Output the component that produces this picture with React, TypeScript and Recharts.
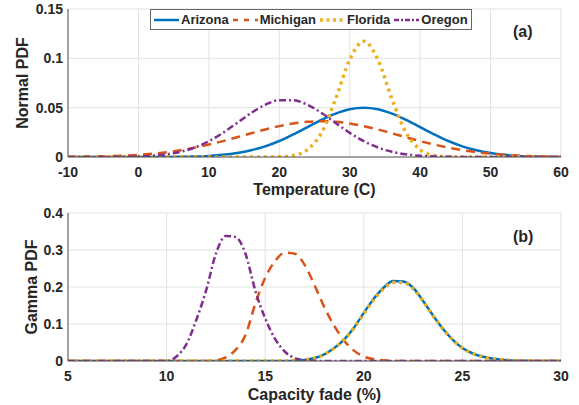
import React from "react";
import { LineChart, Line, XAxis, YAxis, CartesianGrid, Legend, Label } from "recharts";

// panel (a): normal PDFs over temperature
const tempX = [-10, -8, -6, -4, -2, 0, 2, 4, 6, 8, 10, 12, 14, 16, 18, 20, 22, 24, 26, 28, 30, 32, 34, 36, 38, 40, 42, 44, 46, 48, 50, 52, 54, 56, 58, 60];
const arizonaTemp = [0, 0, 0, 0, 0.00001, 0.00002, 0.00004, 0.0001, 0.00025, 0.00055, 0.0011, 0.0022, 0.004, 0.0068, 0.0108, 0.0162, 0.0229, 0.0303, 0.0377, 0.044, 0.0484, 0.0499, 0.0484, 0.044, 0.0377, 0.0303, 0.0229, 0.0162, 0.0108, 0.0068, 0.004, 0.0022, 0.0011, 0.00055, 0.00025, 0.0001];
const michiganTemp = [0.00017, 0.0003, 0.00053, 0.00088, 0.0014, 0.0022, 0.0034, 0.0049, 0.0069, 0.0095, 0.0126, 0.0161, 0.02, 0.024, 0.0279, 0.0313, 0.034, 0.0357, 0.0363, 0.0357, 0.034, 0.0313, 0.0279, 0.024, 0.02, 0.0161, 0.0126, 0.0095, 0.0069, 0.0049, 0.0034, 0.0022, 0.0014, 0.00088, 0.00053, 0.0003];
const floridaTemp = [0, 0, 0, 0, 0, 0, 0, 0, 0, 0, 0, 0, 0, 0, 0.00002, 0.00023, 0.0016, 0.0074, 0.0247, 0.0587, 0.0987, 0.1173, 0.0987, 0.0587, 0.0247, 0.0074, 0.0016, 0.00023, 0.00002, 0, 0, 0, 0, 0, 0, 0];
const oregonTemp = [0, 0, 0.00002, 0.00007, 0.00021, 0.00053, 0.0012, 0.0027, 0.0053, 0.0096, 0.016, 0.0245, 0.0345, 0.0446, 0.0529, 0.0576, 0.0576, 0.0529, 0.0446, 0.0345, 0.0245, 0.016, 0.0096, 0.0053, 0.0027, 0.0012, 0.00053, 0.00021, 0.00007, 0.00002, 0, 0, 0, 0, 0, 0];
const tempTicks = [-10, 0, 10, 20, 30, 40, 50, 60];
const normalTicks = [0, 0.05, 0.1, 0.15];

// panel (b): gamma PDFs over capacity fade
const fadeX = [5, 5.5, 6, 6.5, 7, 7.5, 8, 8.5, 9, 9.5, 10, 10.5, 11, 11.5, 12, 12.5, 13, 13.5, 14, 14.5, 15, 15.5, 16, 16.5, 17, 17.5, 18, 18.5, 19, 19.5, 20, 20.5, 21, 21.5, 22, 22.5, 23, 23.5, 24, 24.5, 25, 25.5, 26, 26.5, 27, 27.5, 28, 28.5, 29, 29.5, 30];
const arizonaFade = [0, 0, 0, 0, 0, 0, 0, 0, 0, 0, 0, 0, 0, 0, 0, 0, 0, 0, 0, 0, 0, 0, 0, 0.001, 0.003, 0.008, 0.018, 0.035, 0.058, 0.09, 0.13, 0.168, 0.198, 0.216, 0.215, 0.198, 0.163, 0.124, 0.088, 0.058, 0.035, 0.021, 0.012, 0.0065, 0.0033, 0.0016, 0.0007, 0.0003, 0.0001, 0, 0];
const michiganFade = [0, 0, 0, 0, 0, 0, 0, 0, 0, 0, 0, 0, 0, 0, 0, 0.002, 0.01, 0.03, 0.07, 0.155, 0.225, 0.27, 0.293, 0.29, 0.26, 0.205, 0.145, 0.095, 0.055, 0.028, 0.012, 0.005, 0.002, 0.0005, 0, 0, 0, 0, 0, 0, 0, 0, 0, 0, 0, 0, 0, 0, 0, 0, 0];
const floridaFade = [0, 0, 0, 0, 0, 0, 0, 0, 0, 0, 0, 0, 0, 0, 0, 0, 0, 0, 0, 0, 0, 0, 0, 0.001, 0.003, 0.008, 0.018, 0.035, 0.058, 0.089, 0.128, 0.165, 0.195, 0.212, 0.212, 0.196, 0.162, 0.123, 0.088, 0.058, 0.035, 0.021, 0.012, 0.0065, 0.0033, 0.0016, 0.0007, 0.0003, 0.0001, 0, 0];
const oregonFade = [0, 0, 0, 0, 0, 0, 0, 0, 0, 0, 0, 0.012, 0.045, 0.11, 0.19, 0.29, 0.338, 0.335, 0.29, 0.19, 0.115, 0.06, 0.025, 0.008, 0.002, 0.0005, 0, 0, 0, 0, 0, 0, 0, 0, 0, 0, 0, 0, 0, 0, 0, 0, 0, 0, 0, 0, 0, 0, 0, 0, 0];
const fadeTicks = [5, 10, 15, 20, 25, 30];
const gammaTicks = [0, 0.1, 0.2, 0.3, 0.4];

const tempRows = tempX.map((x, i) => ({
  x,
  Arizona: arizonaTemp[i],
  Michigan: michiganTemp[i],
  Florida: floridaTemp[i],
  Oregon: oregonTemp[i],
}));
const fadeRows = fadeX.map((x, i) => ({
  x,
  Arizona: arizonaFade[i],
  Michigan: michiganFade[i],
  Florida: floridaFade[i],
  Oregon: oregonFade[i],
}));

const FONT = '"Liberation Sans", Arial, sans-serif';
const INK = "#262626";
const BOX = "#555";
const GRID = "#e2e2e2";

const series = [
  { key: "Arizona", color: "#0072BD", dash: undefined, width: 2.5, legendDash: undefined },
  { key: "Michigan", color: "#D95319", dash: "9 6", width: 2.5, legendDash: "5 6" },
  { key: "Florida", color: "#EDB120", dash: "3 4", width: 3.5, legendDash: "3 3.5" },
  { key: "Oregon", color: "#7E2F8E", dash: "7 3 2 3", width: 2.5, legendDash: "5 2 2 2" },
];

const tickStyle = { fill: INK, fontSize: 14, fontWeight: 700, fontFamily: FONT };

function yTitle(value: string, tx: number) {
  return (props: any) => {
    const vb = props.viewBox;
    const cy = vb.y + vb.height / 2;
    return (
      <text
        x={tx}
        y={cy}
        transform={`rotate(-90, ${tx}, ${cy})`}
        textAnchor="middle"
        dominantBaseline="central"
        fill={INK}
        fontSize={16}
        fontWeight={700}
        fontFamily={FONT}
      >
        {value}
      </text>
    );
  };
}

function LegendBox(props: any) {
  const items = [...(props.payload || [])].sort(
    (a: any, b: any) => series.findIndex((s) => s.key === a.value) - series.findIndex((s) => s.key === b.value)
  );
  return (
    <div
      style={{
        display: "flex",
        alignItems: "center",
        background: "#fff",
        border: "1px solid #666",
        height: 19,
        padding: "0 3px",
        fontFamily: FONT,
        fontWeight: 700,
        fontSize: 13,
        color: INK,
        whiteSpace: "nowrap",
      }}
    >
      {items.map((it: any, i: number) => {
        const s = series.find((d) => d.key === it.value)!;
        return (
          <div key={it.value} style={{ display: "flex", alignItems: "center", marginLeft: i ? 4 : 0 }}>
            <svg width={25} height={10}>
              <line x1={0} x2={25} y1={5} y2={5} stroke={s.color} strokeWidth={s.width} strokeDasharray={s.legendDash} />
            </svg>
            <span style={{ marginLeft: 2 }}>{it.value}</span>
          </div>
        );
      })}
    </div>
  );
}

function Panel(props: {
  rows: any[];
  xTicks: number[];
  yTicks: number[];
  xTitle: string;
  yTitleText: string;
  yTitleX: number;
  height: number;
  top: number;
  legend?: boolean;
}) {
  const { rows, xTicks, yTicks } = props;
  const xDomain = [xTicks[0], xTicks[xTicks.length - 1]];
  const yDomain = [yTicks[0], yTicks[yTicks.length - 1]];
  return (
    <LineChart width={579} height={props.height} data={rows} margin={{ top: props.top, right: 18, bottom: 0, left: 0 }}>
      <CartesianGrid stroke={GRID} />
      <XAxis
        dataKey="x"
        type="number"
        domain={xDomain}
        ticks={xTicks}
        allowDataOverflow
        height={props.height - props.top - 148}
        tick={tickStyle}
        tickLine={false}
        tickSize={4}
        tickMargin={6}
        axisLine={{ stroke: BOX }}
      >
        <Label value={props.xTitle} position="insideBottom" offset={5} fill={INK} fontSize={16} fontWeight={700} fontFamily={FONT} />
      </XAxis>
      <XAxis
        xAxisId="top"
        orientation="top"
        dataKey="x"
        type="number"
        domain={xDomain}
        ticks={xTicks}
        allowDataOverflow
        height={0}
        mirror
        tickFormatter={() => ""}
        tickSize={5}
        tickLine={{ stroke: BOX }}
        axisLine={{ stroke: BOX }}
      />
      <YAxis
        type="number"
        domain={yDomain}
        ticks={yTicks}
        allowDataOverflow
        width={68}
        tick={tickStyle}
        tickLine={false}
        tickSize={4}
        tickMargin={1}
        axisLine={{ stroke: BOX }}
      >
        <Label content={yTitle(props.yTitleText, props.yTitleX)} />
      </YAxis>
      <YAxis
        yAxisId="right"
        orientation="right"
        type="number"
        domain={yDomain}
        ticks={yTicks}
        allowDataOverflow
        width={0}
        mirror
        tickFormatter={() => ""}
        tickSize={5}
        tickLine={{ stroke: BOX }}
        axisLine={{ stroke: BOX }}
      />
      {props.legend && (
        <Legend
          layout="horizontal"
          verticalAlign="middle"
          align="center"
          content={<LegendBox />}
          wrapperStyle={{ top: 9, left: 150, width: "auto" }}
        />
      )}
      {series.map((s) => (
        <Line
          key={s.key}
          dataKey={s.key}
          type="monotone"
          stroke={s.color}
          strokeWidth={s.width}
          strokeDasharray={s.dash}
          dot={false}
          activeDot={false}
          isAnimationActive={false}
        />
      ))}
    </LineChart>
  );
}

const tag = { position: "absolute" as const, fontFamily: FONT, fontWeight: 700, fontSize: 16, color: INK, lineHeight: "16px" };

export default function App() {
  return (
    <div style={{ position: "absolute", left: 0, top: 0, width: 579, height: 405, background: "#fff" }}>
      <div style={{ position: "absolute", left: 0, top: 0 }}>
        <Panel
          rows={tempRows}
          xTicks={tempTicks}
          yTicks={normalTicks}
          xTitle="Temperature (C)"
          yTitleText="Normal PDF"
          yTitleX={22}
          height={200}
          top={9}
          legend
        />
      </div>
      <div style={{ position: "absolute", left: 0, top: 200 }}>
        <Panel
          rows={fadeRows}
          xTicks={fadeTicks}
          yTicks={gammaTicks}
          xTitle="Capacity fade (%)"
          yTitleText="Gamma PDF"
          yTitleX={31}
          height={205}
          top={13}
        />
      </div>
      <div style={{ ...tag, left: 513, top: 24 }}>(a)</div>
      <div style={{ ...tag, left: 513, top: 229 }}>(b)</div>
    </div>
  );
}
